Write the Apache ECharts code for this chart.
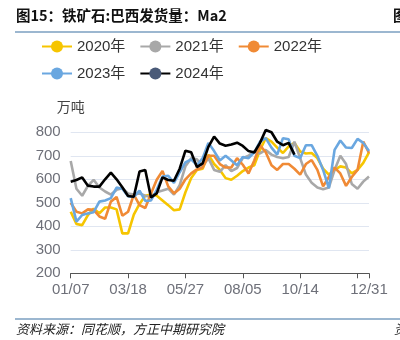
<!DOCTYPE html>
<html><head><meta charset="utf-8">
<script src="https://cdn.jsdelivr.net/npm/echarts@6/dist/echarts.min.js"></script>
<style>html,body{margin:0;padding:0;background:#fff;}#c{width:400px;height:340px;}</style>
</head><body><div id="c"></div>
<script>
const categories = ["01/07","01/14","01/21","01/28","02/04","02/11","02/18","02/25","03/04","03/11",
"03/18","03/25","04/01","04/08","04/15","04/22","04/29","05/06","05/13","05/20",
"05/27","06/03","06/10","06/17","06/24","07/01","07/08","07/15","07/22","07/29",
"08/05","08/12","08/19","08/26","09/02","09/09","09/16","09/23","09/30","10/07",
"10/14","10/21","10/28","11/04","11/11","11/18","11/25","12/02","12/09","12/16",
"12/23","12/30","12/31"];
const seriesNames = ["2020年","2021年","2022年","2023年","2024年"];
const y2020 = [462,410,405,448,475,455,480,480,472,370,370,450,495,530,535,530,510,490,468,472,545,605,640,645,705,665,640,605,598,615,635,650,660,725,775,760,735,712,740,755,718,710,712,690,645,620,640,655,650,625,640,670,715];
const y2021 = [678,560,530,572,598,565,548,535,555,562,540,535,540,530,525,545,552,560,535,575,655,690,685,655,690,640,632,660,635,648,690,700,720,710,725,705,695,690,695,760,690,620,585,565,558,565,640,700,665,580,560,590,612];
const y2022 = [500,462,455,472,470,442,432,505,525,445,462,535,490,478,540,598,635,570,540,560,600,625,642,650,700,700,665,650,650,690,662,625,680,745,715,660,640,665,665,645,620,665,682,640,570,610,650,625,572,610,640,760,712];
const y2023 = [520,420,448,455,460,505,510,520,565,560,528,525,552,508,510,555,612,615,585,630,672,685,660,690,755,720,680,700,680,660,695,690,715,760,775,735,705,775,770,700,690,745,745,700,640,562,725,765,735,733,772,755,720];
const y2024 = [590,597,608,573,569,569,600,628,600,566,529,526,633,640,523,540,608,597,594,645,722,715,652,668,738,782,752,743,748,756,742,720,714,755,810,800,760,745,755,705];
const yTicks = [200,300,400,500,600,700,800];
const labelIdx = [0,10,20,30,40,52];
const tickIdx = [0,10,20,30,40,50,52];

const lineColors = ['#f6c500','#a8a8a8','#f08a35','#6aa7e0','#000000'];
const dotColors = ['#f6c500','#a8a8a8','#f08a35','#6aa7e0','#4a5a78'];
const datas = [y2020,y2021,y2022,y2023,y2024];
const FONT = "'Liberation Sans','Noto Sans CJK SC',sans-serif";

const legendBase = {
  left:36, width:340, itemWidth:30, itemHeight:15, itemGap:14,
  textStyle:{fontSize:15, color:'#333', fontFamily:FONT}
};

const chart = echarts.init(document.getElementById('c'), null, {renderer:'canvas'});
chart.setOption({
  animation:false,
  textStyle:{fontFamily:FONT},
  legend:[
    Object.assign({}, legendBase, {top:34, data:seriesNames.slice(0,3)}),
    Object.assign({}, legendBase, {top:61, data:seriesNames.slice(3)})
  ],
  grid:{left:70.7, right:31, top:132.3, bottom:66.7, containLabel:false},
  xAxis:{
    type:'category', boundaryGap:false, data:categories,
    axisLine:{lineStyle:{color:'#555', width:1}},
    axisTick:{length:5, lineStyle:{color:'#555'}, interval:(i)=>tickIdx.indexOf(i)>=0},
    axisLabel:{interval:(i)=>labelIdx.indexOf(i)>=0, fontSize:15, color:'#6e7079', margin:9, fontFamily:FONT, showMaxLabel:true}
  },
  yAxis:{
    type:'value', min:yTicks[0], max:yTicks[yTicks.length-1], interval:100,
    name:'万吨', nameGap:17, nameTextStyle:{fontSize:14, color:'#444', fontFamily:FONT, align:'center'},
    axisLine:{show:false}, axisTick:{show:false},
    axisLabel:{fontSize:15, color:'#6e7079', margin:10, fontFamily:FONT},
    splitLine:{lineStyle:{color:'#e0e6f1'}}
  },
  series: datas.map((d,k)=>({
    name:seriesNames[k], type:'line', data:d, symbol:'circle', showSymbol:false,
    clip:false,
    lineStyle:{color:lineColors[k], width:2.6},
    itemStyle:{color:dotColors[k]},
    emphasis:{disabled:true}
  })),
  graphic:[
    {type:'text', left:16, top:8, style:{text:'图15：铁矿石:巴西发货量：Ma2', font:"bold 14.5px 'Noto Sans CJK SC'", fill:'#111'}},
    {type:'text', left:393, top:8, style:{text:'图', font:"bold 14.5px 'Noto Sans CJK SC'", fill:'#111'}},
    {type:'line', shape:{x1:15,y1:32,x2:400,y2:32}, style:{stroke:'#7b9fc0', lineWidth:1.5}},
    {type:'line', shape:{x1:15,y1:319,x2:400,y2:319}, style:{stroke:'#7b9fc0', lineWidth:1.5}},
    {type:'text', left:16, top:323, style:{text:'资料来源：同花顺，方正中期研究院', font:"italic 13px 'Noto Sans CJK SC'", fill:'#222'}},
    {type:'text', left:394, top:323, style:{text:'资', font:"italic 13px 'Noto Sans CJK SC'", fill:'#222'}}
  ]
});
</script></body></html>
